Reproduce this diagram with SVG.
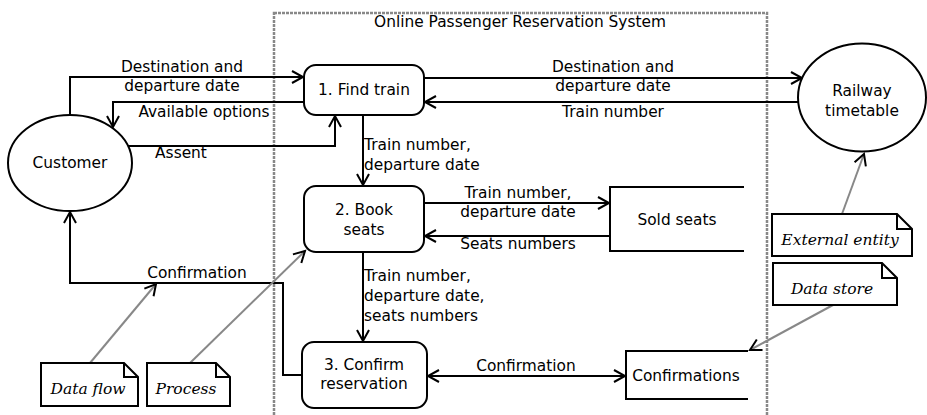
<svg xmlns="http://www.w3.org/2000/svg" width="927" height="415" viewBox="0 0 927 415">
<style>
.t{font-family:"DejaVu Sans",sans-serif;font-size:15.4px;fill:#000}
.c{text-anchor:middle}
.n{font-family:"DejaVu Serif",serif;font-style:italic;font-size:15.5px;fill:#000;text-anchor:middle}
.box{fill:#fff;stroke:#000;stroke-width:2}
.f{fill:none;stroke:#000;stroke-width:2}
.g{fill:none;stroke:#888;stroke-width:2}
</style>
<defs>
<marker id="a" markerUnits="userSpaceOnUse" markerWidth="16" markerHeight="16" refX="12" refY="7" orient="auto-start-reverse" viewBox="0 0 16 14">
<path d="M1,1 L12,7 L1,13" fill="none" stroke="#000" stroke-width="2"/>
</marker>
</defs>
<g id="system">
<rect x="274" y="13" width="493" height="420" fill="none" stroke="#888" stroke-width="2.5" stroke-dasharray="3,1"/>
<text class="t c" x="520" y="27">Online Passenger Reservation System</text>
</g>
<g id="connectors">
<path class="f" d="M70,115 V77 H303" marker-end="url(#a)"/>
<path class="f" d="M304,102 H113 V127" marker-end="url(#a)"/>
<path class="f" d="M128,146 H335 V116" marker-end="url(#a)"/>
<path class="f" d="M363,115 V185" marker-end="url(#a)"/>
<path class="f" d="M363,252 V341" marker-end="url(#a)"/>
<path class="f" d="M302,375 H283 V283 H70 V212" marker-end="url(#a)"/>
<path class="f" d="M424,203 H609" marker-end="url(#a)"/>
<path class="f" d="M610,236 H425" marker-end="url(#a)"/>
<path class="f" d="M424,78 H802" marker-end="url(#a)"/>
<path class="f" d="M799,102 H425" marker-end="url(#a)"/>
<path class="f" d="M428,376 H625" marker-start="url(#a)" marker-end="url(#a)"/>
<path class="g" d="M842,214 L864,154" marker-end="url(#a)"/>
<path class="g" d="M833,305 L750,350" marker-end="url(#a)"/>
<path class="g" d="M90,363 L156,284" marker-end="url(#a)"/>
<path class="g" d="M190,363 L305,251" marker-end="url(#a)"/>
<text class="t c" x="182" y="72">Destination and</text>
<text class="t c" x="182" y="91">departure date</text>
<text class="t c" x="204" y="117">Available options</text>
<text class="t c" x="181" y="158">Assent</text>
<text class="t c" x="197" y="278">Confirmation</text>
<text class="t c" x="613" y="72">Destination and</text>
<text class="t c" x="613" y="91">departure date</text>
<text class="t c" x="613" y="117">Train number</text>
<text class="t" x="364" y="150">Train number,</text>
<text class="t" x="364" y="170">departure date</text>
<text class="t c" x="518" y="198">Train number,</text>
<text class="t c" x="518" y="217">departure date</text>
<text class="t c" x="518" y="249">Seats numbers</text>
<text class="t" x="364" y="281">Train number,</text>
<text class="t" x="364" y="301">departure date,</text>
<text class="t" x="364" y="321">seats numbers</text>
<text class="t c" x="526" y="371">Confirmation</text>
</g>
<g id="customer">
<ellipse class="box" cx="70" cy="163" rx="62" ry="48"/>
<text class="t c" x="70" y="168">Customer</text>
</g>
<g id="railway">
<ellipse class="box" cx="862" cy="97.5" rx="64" ry="54"/>
<text class="t c" x="862" y="96">Railway</text>
<text class="t c" x="862" y="116">timetable</text>
</g>
<g id="find-train">
<rect class="box" x="304" y="65" width="120" height="50" rx="12"/>
<text class="t c" x="364" y="95">1. Find train</text>
</g>
<g id="book-seats">
<rect class="box" x="304" y="186" width="120" height="66" rx="12"/>
<text class="t c" x="364" y="215">2. Book</text>
<text class="t c" x="364" y="235">seats</text>
</g>
<g id="confirm">
<rect class="box" x="302" y="342" width="125" height="66" rx="12"/>
<text class="t c" x="364" y="370">3. Confirm</text>
<text class="t c" x="364" y="389">reservation</text>
</g>
<g id="sold-seats">
<path class="f" d="M744,187 H610 V251 H744"/>
<text class="t c" x="677" y="225">Sold seats</text>
</g>
<g id="confirmations">
<path class="f" d="M748,351 H626 V399 H748"/>
<text class="t c" x="686" y="381">Confirmations</text>
</g>
<g id="note-external">
<path class="box" d="M772,214 H897 L912,229 V256 H772 Z"/>
<path class="f" d="M897,214 V229 H912"/>
<text class="n" x="840" y="245">External entity</text>
</g>
<g id="note-datastore">
<path class="box" d="M773,263 H882 L897,278 V305 H773 Z"/>
<path class="f" d="M882,263 V278 H897"/>
<text class="n" x="832" y="294">Data store</text>
</g>
<g id="note-dataflow">
<path class="box" d="M41,363 H124 L138,377 V406 H41 Z"/>
<path class="f" d="M124,363 V377 H138"/>
<text class="n" x="88" y="394">Data flow</text>
</g>
<g id="note-process">
<path class="box" d="M147,363 H216 L230,377 V406 H147 Z"/>
<path class="f" d="M216,363 V377 H230"/>
<text class="n" x="186" y="394">Process</text>
</g>
</svg>
